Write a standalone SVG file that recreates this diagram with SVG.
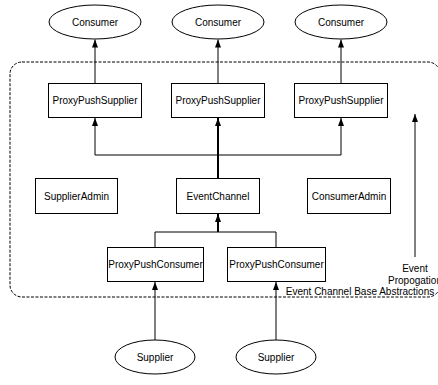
<svg xmlns="http://www.w3.org/2000/svg" width="438" height="385" viewBox="0 0 438 385">
<style>
text{font-family:"Liberation Sans",Arial,sans-serif;font-size:10px;fill:#000;text-anchor:middle;dominant-baseline:central}
.node rect,.node ellipse{fill:#fff;stroke:#000;stroke-width:1}
.c{stroke:#000;stroke-width:1;fill:none}
.t{stroke-width:2}
</style>
<defs>
<marker id="ah" markerWidth="8" markerHeight="6" refX="8" refY="3" orient="auto" markerUnits="userSpaceOnUse" viewBox="0 0 8 6">
<path d="M0,0 L8,3 L0,6 Z" fill="#000"/>
</marker>
</defs>
<g id="boundary">
<rect x="10" y="62" width="430" height="235" rx="12" fill="none" stroke="#000" stroke-dasharray="3,1.5"/>
<text x="360" y="291">Event Channel Base Abstractions</text>
</g>
<g id="connectors">
<line class="c" x1="95" y1="83" x2="95" y2="39.5" marker-end="url(#ah)"/>
<line class="c" x1="218" y1="83" x2="218" y2="39.5" marker-end="url(#ah)"/>
<line class="c" x1="341" y1="83" x2="341" y2="39.5" marker-end="url(#ah)"/>
<polyline class="c" points="95,155 341,155"/>
<line class="c" x1="95" y1="155" x2="95" y2="118" marker-end="url(#ah)"/>
<line class="c" x1="341" y1="155" x2="341" y2="118" marker-end="url(#ah)"/>
<line class="c t" x1="218" y1="178" x2="218" y2="118" marker-end="url(#ah)"/>
<polyline class="c" points="155,247 155,232 276,232 276,247"/>
<line class="c t" x1="218" y1="232" x2="218" y2="214" marker-end="url(#ah)"/>
<line class="c" x1="155" y1="340" x2="155" y2="282" marker-end="url(#ah)"/>
<line class="c" x1="276" y1="340" x2="276" y2="282" marker-end="url(#ah)"/>
<line class="c" x1="415" y1="257" x2="415" y2="114" marker-end="url(#ah)"/>
</g>
<g id="consumer1" class="node"><ellipse cx="95" cy="22" rx="46" ry="17"/><text x="95" y="22">Consumer</text></g>
<g id="consumer2" class="node"><ellipse cx="218" cy="22" rx="46" ry="17"/><text x="218" y="22">Consumer</text></g>
<g id="consumer3" class="node"><ellipse cx="341" cy="22" rx="46" ry="17"/><text x="341" y="22">Consumer</text></g>
<g id="pps1" class="node"><rect x="48.5" y="83.5" width="93" height="34"/><text x="95" y="100.5">ProxyPushSupplier</text></g>
<g id="pps2" class="node"><rect x="171.5" y="83.5" width="93" height="34"/><text x="218" y="100.5">ProxyPushSupplier</text></g>
<g id="pps3" class="node"><rect x="294.5" y="83.5" width="93" height="34"/><text x="341" y="100.5">ProxyPushSupplier</text></g>
<g id="supplierAdmin" class="node"><rect x="35.5" y="178.5" width="82" height="35"/><text x="76.5" y="196">SupplierAdmin</text></g>
<g id="eventChannel" class="node"><rect x="176.5" y="178.5" width="83" height="35"/><text x="218" y="196">EventChannel</text></g>
<g id="consumerAdmin" class="node"><rect x="307.5" y="178.5" width="83" height="35"/><text x="349" y="196">ConsumerAdmin</text></g>
<g id="ppc1" class="node"><rect x="107.5" y="247.5" width="96" height="34"/><text x="155.5" y="264.5">ProxyPushConsumer</text></g>
<g id="ppc2" class="node"><rect x="227.5" y="247.5" width="98" height="34"/><text x="276.5" y="264.5">ProxyPushConsumer</text></g>
<g id="supplier1" class="node"><ellipse cx="155" cy="357" rx="40" ry="17"/><text x="155" y="357">Supplier</text></g>
<g id="supplier2" class="node"><ellipse cx="276" cy="357" rx="40" ry="17"/><text x="276" y="357">Supplier</text></g>
<g id="propagation"><text x="415" y="268">Event</text><text x="415" y="280">Propogation</text></g>
</svg>
